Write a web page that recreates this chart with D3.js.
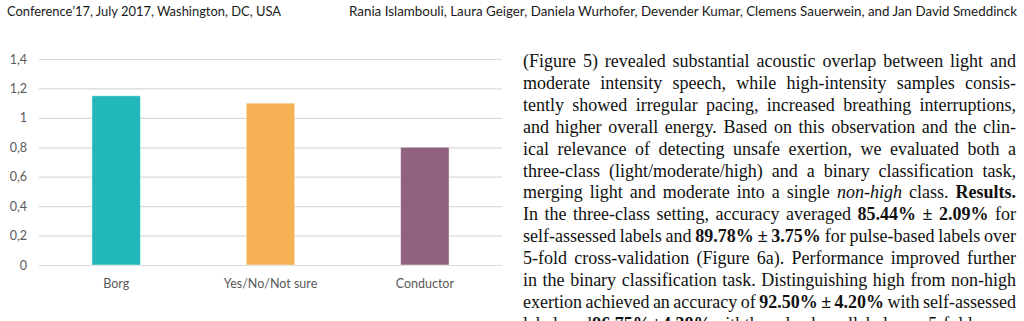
<!DOCTYPE html>
<html><head><meta charset="utf-8">
<script src="https://cdn.jsdelivr.net/npm/d3@7"></script>
<style>
html,body{margin:0;padding:0;background:#fff;}
svg{display:block;}
</style></head>
<body>
<svg id="c" width="1024" height="321"></svg>
<script>
const categories = ["Borg", "Yes/No/Not sure", "Conductor"];
const values = [1.15, 1.10, 0.80];
const barColors = ["#22B8BA", "#F7B155", "#91627F"];
const tickValues = [0, 0.2, 0.4, 0.6, 0.8, 1.0, 1.2, 1.4];
const tickLabels = ["0", "0,2", "0,4", "0,6", "0,8", "1", "1,2", "1,4"];

const headerLeft = "Conference\u201917, July 2017, Washington, DC, USA";
const headerRight = "Rania Islambouli, Laura Geiger, Daniela Wurhofer, Devender Kumar, Clemens Sauerwein, and Jan David Smeddinck";

const bodyLines = [
  [["(Figure 5) revealed substantial acoustic overlap between light and"]],
  [["moderate intensity speech, while high-intensity samples consis-"]],
  [["tently showed irregular pacing, increased breathing interruptions,"]],
  [["and higher overall energy. Based on this observation and the clin-"]],
  [["ical relevance of detecting unsafe exertion, we evaluated both a"]],
  [["three-class (light/moderate/high) and a binary classification task,"]],
  [["merging light and moderate into a single "],["non-high","i"],[" class. "],["Results.","b"]],
  [["In the three-class setting, accuracy averaged "],["85.44% \u00b1 2.09%","b"],[" for"]],
  [["self-assessed labels and "],["89.78% \u00b1 3.75%","b"],[" for pulse-based labels over"]],
  [["5-fold cross-validation (Figure 6a). Performance improved further"]],
  [["in the binary classification task. Distinguishing high from non-high"]],
  [["exertion achieved an accuracy of "],["92.50% \u00b1 4.20%","b"],[" with self-assessed"]],
  [["labels and "],["96.75% \u00b1 4.38%","b"],[" with the pulse-based labels over 5-fold cross-"]]
];

const svg = d3.select("#c");

// header
svg.append("text").attr("x", 7).attr("y", 16)
  .attr("font-family", "Lato, 'Open Sans', sans-serif").attr("font-size", 14).attr("fill", "#1a1a1a")
  .attr("textLength", 274).attr("lengthAdjust", "spacingAndGlyphs").text(headerLeft);
svg.append("text").attr("x", 349).attr("y", 16)
  .attr("font-family", "Lato, 'Open Sans', sans-serif").attr("font-size", 14).attr("fill", "#1a1a1a")
  .attr("textLength", 668).attr("lengthAdjust", "spacingAndGlyphs").text(headerRight);

// chart
const x = d3.scaleBand().domain(categories).range([39, 502]).padding(0);
const y = d3.scaleLinear().domain([0, 1.4]).range([265, 59]);
const barFrac = 0.314;

const yAxis = d3.axisLeft(y).tickValues(tickValues)
  .tickFormat((d, i) => tickLabels[i]).tickSize(-(502 - 39)).tickPadding(12);
const gy = svg.append("g").attr("transform", "translate(39,0)").call(yAxis);
gy.select(".domain").remove();
gy.selectAll(".tick line").attr("stroke", "#d9d9d9").attr("stroke-width", 1.2);
gy.selectAll(".tick text").attr("fill", "#595959")
  .attr("font-family", "Lato, 'Open Sans', sans-serif").attr("font-size", 12.5);

svg.append("g").selectAll("rect").data(categories).join("rect")
  .attr("x", d => x(d) + x.bandwidth() * (1 - barFrac) / 2)
  .attr("width", x.bandwidth() * barFrac)
  .attr("y", (d, i) => y(values[i]))
  .attr("height", (d, i) => y(0) - y(values[i]))
  .attr("fill", (d, i) => barColors[i])
  .attr("stroke", "#ffffff").attr("stroke-opacity", 0.45).attr("stroke-width", 1);

const xAxis = d3.axisBottom(x).tickSize(0).tickPadding(14);
const gx = svg.append("g").attr("transform", "translate(0,265)").call(xAxis);
gx.select(".domain").remove();
gx.selectAll(".tick text").attr("fill", "#595959")
  .attr("font-family", "Lato, 'Open Sans', sans-serif").attr("font-size", 12.5);

// body text, justified
const left = 523, right = 1016, base0 = 67, lh = 21.9;
bodyLines.forEach((segs, li) => {
  const t = svg.append("text").attr("x", left).attr("y", base0 + li * lh)
    .attr("font-family", "'Liberation Serif', 'DejaVu Serif', serif")
    .attr("font-size", 18).attr("fill", "#111")
    .attr("xml:space", "preserve").style("white-space", "pre");
  segs.forEach(s => {
    const ts = t.append("tspan").text(s[0]);
    if (s[1] === "b") ts.attr("font-weight", "bold");
    if (s[1] === "i") ts.attr("font-style", "italic");
  });
  const full = segs.map(s => s[0]).join("");
  const spaces = (full.match(/ /g) || []).length;
  const w = t.node().getComputedTextLength();
  if (spaces > 0) t.attr("word-spacing", (right - left - w) / spaces);
});
</script>
</body></html>
